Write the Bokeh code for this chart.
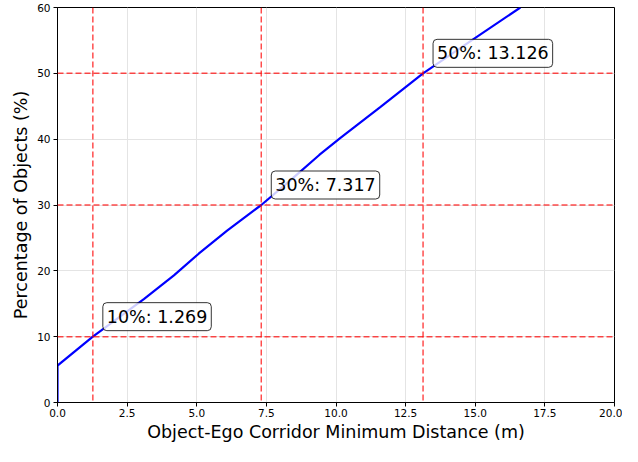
from bokeh.plotting import figure
from bokeh.models import Span, ColumnDataSource, FixedTicker, NumeralTickFormatter
from bokeh.core.properties import value
from bokeh.embed import file_html
from bokeh.resources import INLINE

# CDF curve
dist_m = [0.0, 0.0, 1.269, 3.10, 4.18, 5.07, 6.09, 7.317, 8.40, 9.40, 10.16, 11.60, 13.126, 14.83, 16.62]
pct_obj = [0.0, 5.6, 10.0, 15.7, 19.3, 22.6, 26.1, 30.0, 33.9, 37.6, 40.2, 44.9, 50.0, 54.9, 60.0]

# Percentile markers
marker_pct = [10, 30, 50]
marker_dist = [1.269, 7.317, 13.126]
marker_labels = ["10%: 1.269", "30%: 7.317", "50%: 13.126"]

x_ticks = [0, 2.5, 5, 7.5, 10, 12.5, 15, 17.5, 20]
y_ticks = [0, 10, 20, 30, 40, 50, 60]

FONT = "DejaVu Sans"

p = figure(width=622, height=446, x_range=(0, 20), y_range=(0, 60),
           output_backend="svg", toolbar_location=None,
           min_border_left=57, min_border_right=8, min_border_top=7, min_border_bottom=44,
           background_fill_color="white", border_fill_color="white")

p.outline_line_color = "black"
p.outline_line_width = 1

for ax in (p.xaxis[0], p.yaxis[0]):
    ax.axis_line_color = "black"
    ax.major_tick_line_color = "black"
    ax.minor_tick_line_color = None
    ax.major_tick_out = 4
    ax.major_tick_in = 0
    ax.major_label_text_font = FONT
    ax.major_label_text_font_size = "10.5px"
    ax.major_label_text_color = "black"
    ax.major_label_standoff = 3
    ax.axis_label_text_font = FONT
    ax.axis_label_text_font_size = "17.5px"
    ax.axis_label_text_font_style = "normal"
    ax.axis_label_text_color = "black"
    ax.axis_label_standoff = 3

p.xaxis.ticker = FixedTicker(ticks=x_ticks)
p.yaxis.ticker = FixedTicker(ticks=y_ticks)
p.xaxis.formatter = NumeralTickFormatter(format="0.0")
p.yaxis.formatter = NumeralTickFormatter(format="0")
p.xaxis.axis_label = "Object-Ego Corridor Minimum Distance (m)"
p.yaxis.axis_label = "Percentage of Objects (%)"
p.xaxis.major_label_standoff = 2
p.xaxis.axis_label_standoff = 2

p.grid.grid_line_color = "#e4e4e4"
p.grid.grid_line_width = 1

for d in marker_dist:
    p.add_layout(Span(location=d, dimension="height", line_color="red", line_alpha=0.7,
                      line_width=1.5, line_dash="6 3"))
for q in marker_pct:
    p.add_layout(Span(location=q, dimension="width", line_color="red", line_alpha=0.7,
                      line_width=1.5, line_dash="6 3"))

p.line(dist_m, pct_obj, line_color="blue", line_width=2.2)

src = ColumnDataSource(dict(x=marker_dist, y=marker_pct, t=marker_labels))
p.text(x="x", y="y", text="t", source=src, x_offset=10, y_offset=-6,
       text_font=value(FONT), text_font_size="17.5px", text_color="black",
       text_align="left", text_baseline="bottom",
       background_fill_color="white", background_fill_alpha=0.8,
       border_line_color="black", border_line_width=1, border_line_alpha=0.8,
       padding=4, border_radius=4)

open("out.html", "w").write(file_html(p, INLINE))
